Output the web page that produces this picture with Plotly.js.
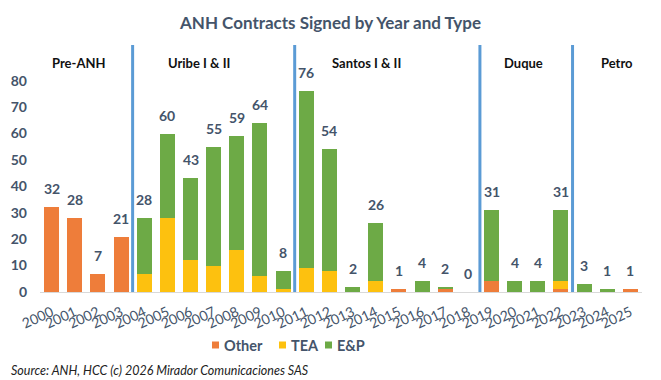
<!DOCTYPE html>
<html>
<head>
<meta charset="utf-8">
<script src="https://cdn.plot.ly/plotly-3.0.1.min.js"></script>
<style>html,body{margin:0;padding:0;background:#fff;}#chart{width:661px;height:380px;}</style>
</head>
<body>
<div id="chart"></div>
<script>
const years = [2000,2001,2002,2003,2004,2005,2006,2007,2008,2009,2010,2011,2012,2013,2014,2015,2016,2017,2018,2019,2020,2021,2022,2023,2024,2025];
const other = [32,28,7,21,0,0,0,0,0,0,0,0,0,0,0,1,0,1,0,4,0,0,1,0,0,1];
const tea   = [0,0,0,0,7,28,12,10,16,6,1,9,8,0,4,0,0,0,0,0,0,0,3,0,0,0];
const ep    = [0,0,0,0,21,32,31,45,43,58,7,67,46,2,22,0,4,1,0,27,4,4,27,3,1,0];
const seriesNames = ["Other","TEA","E&P"];
const eras = ["Pre-ANH","Uribe I & II","Santos I & II","Duque","Petro"];
const eraCenters = [2001.17, 2006.35, 2013.6, 2020.4, 2024.4];
const eraBoundaries = [2003.5, 2010.5, 2018.5, 2022.5];
const sourceText = "Source: ANH, HCC (c) 2026 Mirador Comunicaciones SAS";

const FONT = "Lato, 'Open Sans', sans-serif";
const SLATE = "#44546A";
const COLORS = ["#EE7D3A", "#FDC10F", "#6DAA46"];

// plot-area geometry (pixels) used to place legend/source in paper coords
const W = 661, H = 380, ML = 40, MR = 19, MT = 45, MB = 88;
const PW = W - ML - MR, PH = H - MT - MB;
const px = p => (p - ML) / PW;
const py = p => (H - MB - p) / PH;

const totals = years.map((_, i) => other[i] + tea[i] + ep[i]);
const seriesData = [other, tea, ep];

const traces = seriesNames.map((n, k) => ({
  type:"bar", name:n, x:years, y:seriesData[k], marker:{color:COLORS[k]}, hoverinfo:"skip", showlegend:false
}));

const annotations = [];
years.forEach((yr, i) => {
  annotations.push({x: yr, y: totals[i], xref:"x", yref:"y", text: String(totals[i]),
    showarrow:false, yanchor:"bottom", yshift:8,
    font:{family:FONT, size:14, color:SLATE, weight:"bold"}});
});
eras.forEach((e, i) => {
  annotations.push({x: eraCenters[i], y: py(63), xref:"x", yref:"paper", text: e,
    showarrow:false, xanchor:"center", yanchor:"middle",
    font:{family:FONT, size:13, color:"#111111", weight:"bold"}});
});
annotations.push({x: px(9), y: py(370), xref:"paper", yref:"paper", text: sourceText,
  showarrow:false, xanchor:"left", yanchor:"middle",
  font:{family:FONT, size:12.5, color:"#222222", style:"italic"}});

const shapes = eraBoundaries.map(b => ({type:"line", xref:"x", yref:"paper", x0:b, x1:b, y0:0, y1:1,
  line:{color:"#5B9BD5", width:3}}));

// custom legend (marker square + label)
const legendMarkerLeft = [212, 279, 325];
seriesNames.forEach((n, k) => {
  const l = legendMarkerLeft[k];
  shapes.push({type:"rect", xref:"paper", yref:"paper", x0:px(l), x1:px(l+7), y0:py(348.5), y1:py(341.5),
    line:{width:0}, fillcolor:COLORS[k]});
  annotations.push({x: px(l+10), y: py(345), xref:"paper", yref:"paper", text: n,
    showarrow:false, xanchor:"left", yanchor:"middle",
    font:{family:FONT, size:14.5, color:SLATE, weight:"bold"}});
});

const layout = {
  width:W, height:H,
  margin:{l:ML, r:MR, t:MT, b:MB},
  paper_bgcolor:"#ffffff", plot_bgcolor:"#ffffff",
  barmode:"stack", bargap:0.35, showlegend:false,
  title:{text:"ANH Contracts Signed by Year and Type", x:0.5, xanchor:"center",
    y:0.94, yref:"container", yanchor:"middle",
    font:{family:FONT, size:17, color:SLATE, weight:"bold"}},
  xaxis:{type:"linear", range:[1999.5, 2025.5], tickvals:years, ticktext:years.map(String),
    tickangle:-25, showgrid:false, zeroline:false, ticklabelstandoff:6,
    showline:true, linecolor:"#D9D9D9", linewidth:1, ticks:"",
    tickfont:{family:FONT, size:14, color:SLATE}},
  yaxis:{range:[0,93.5], tickvals:[0,10,20,30,40,50,60,70,80], showgrid:false, zeroline:false,
    showline:false, ticks:"", ticklabelstandoff:12,
    tickfont:{family:FONT, size:14, color:SLATE, weight:"bold"}},
  annotations: annotations,
  shapes: shapes
};

Plotly.newPlot("chart", traces, layout, {displayModeBar:false, staticPlot:true});
</script>
</body>
</html>
